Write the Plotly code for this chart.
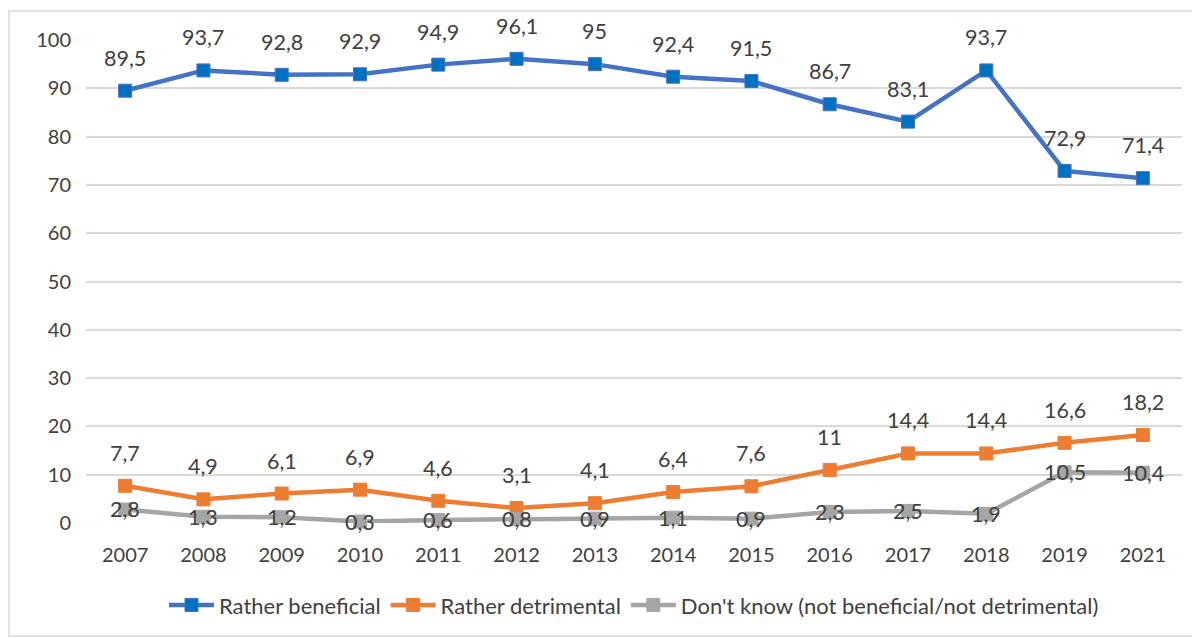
import plotly.graph_objects as go

years = ["2007","2008","2009","2010","2011","2012","2013","2014","2015","2016","2017","2018","2019","2021"]
beneficial = [89.5,93.7,92.8,92.9,94.9,96.1,95,92.4,91.5,86.7,83.1,93.7,72.9,71.4]
detrimental = [7.7,4.9,6.1,6.9,4.6,3.1,4.1,6.4,7.6,11,14.4,14.4,16.6,18.2]
dont_know = [2.8,1.3,1.2,0.3,0.6,0.8,0.9,1.1,0.9,2.3,2.5,1.9,10.5,10.4]

names = ["Rather beneficial", "Rather detrimental", "Don't know (not beneficial/not detrimental)"]

def fmt(v):
    return ("%g" % v).replace(".", ",")

FONT = "Lato"
TXT = "#404040"

fig = go.Figure()
series = [
    (beneficial, names[0], "#4472C4", "#0070C0", 33),
    (detrimental, names[1], "#ED7D31", "#ED7D31", 33),
    (dont_know, names[2], "#A5A5A5", "#A5A5A5", 0),
]
annotations = []
for vals, nm, lc, mc, shift in series:
    fig.add_trace(go.Scatter(
        x=years, y=vals, name=nm, mode="lines+markers",
        line=dict(color=lc, width=4.5),
        marker=dict(symbol="square", size=13, color=mc, line=dict(color=lc, width=1)),
        cliponaxis=False,
    ))
    # category axis: annotation x given as the category index
    for i, v in enumerate(vals):
        annotations.append(dict(x=i, y=v, xref="x", yref="y", text=fmt(v), showarrow=False,
                                yshift=shift, font=dict(family=FONT, size=21.5, color=TXT)))

# page body has an 8px margin; plot area placed to match reference pixels
fig.update_layout(
    width=1200, height=638,
    margin=dict(l=78, r=26, t=32, b=123, autoexpand=False),
    paper_bgcolor="white", plot_bgcolor="white",
    font=dict(family=FONT, size=20, color=TXT),
    xaxis=dict(type="category", range=[-0.5, len(years) - 0.5], showgrid=False, showline=False,
               zeroline=False, ticks="", automargin=False, ticklabelstandoff=18,
               tickfont=dict(size=20, color=TXT)),
    yaxis=dict(range=[0, 100], dtick=10, showgrid=True, gridcolor="#D9D9D9", gridwidth=1.5,
               zeroline=False, showline=False, ticks="", automargin=False, ticklabelstandoff=14,
               tickfont=dict(size=20, color=TXT)),
    legend=dict(orientation="h", x=0.5, xanchor="center", y=-0.17, yanchor="middle",
                font=dict(size=22, color=TXT), traceorder="normal", itemwidth=45),
    showlegend=True,
    annotations=annotations,
    shapes=[dict(type="rect", xref="paper", yref="paper",
                 x0=(1-78)/1096, x1=(1215-78)/1096, y0=(515-628)/483, y1=(515-3)/483,
                 line=dict(color="#D9D9D9", width=1.5), fillcolor="rgba(0,0,0,0)", layer="below")],
)

fig.write_html("out.html")
